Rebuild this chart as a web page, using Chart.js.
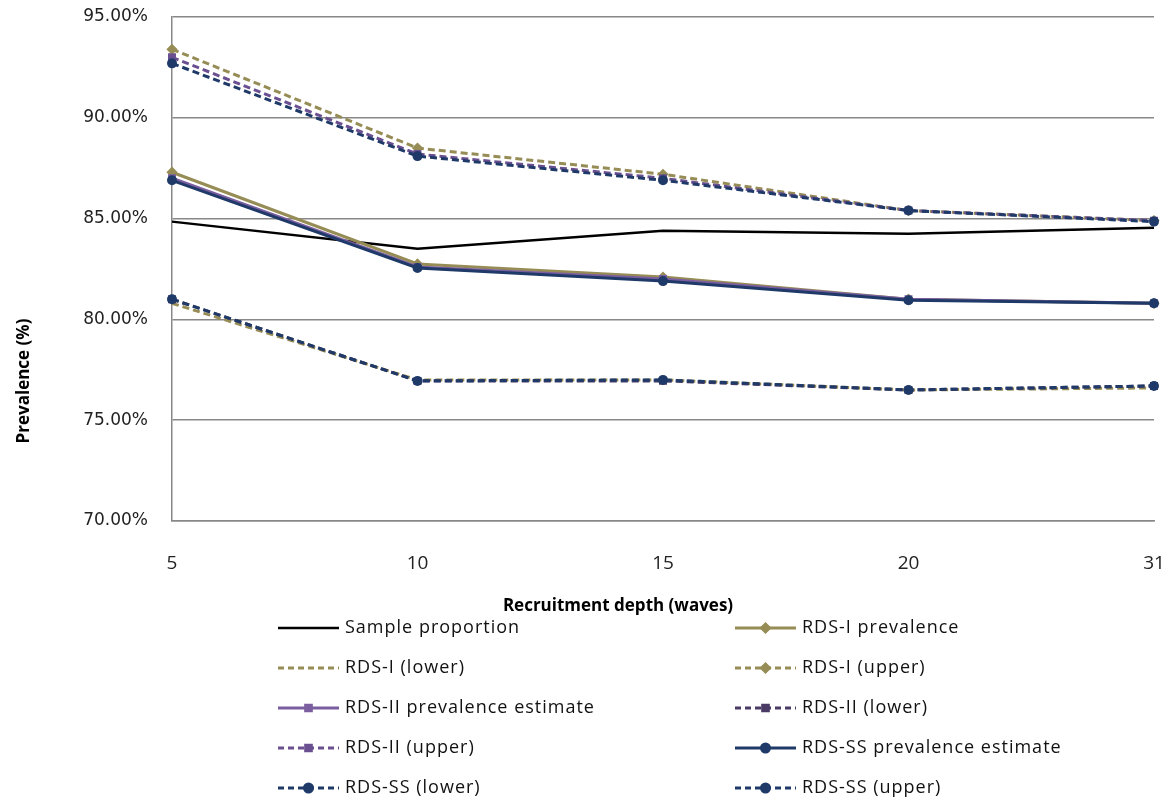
<!DOCTYPE html>
<html>
<head>
<meta charset="utf-8">
<script src="https://cdn.jsdelivr.net/npm/chart.js@4.4.1/dist/chart.umd.min.js"></script>
<style>
  html, body { margin: 0; padding: 0; background: #fff; }
  #wrap { width: 1176px; height: 801px; position: relative; }
</style>
</head>
<body>
<div id="wrap"><canvas id="chart" width="1176" height="801"></canvas></div>
<script>
// Prevalencia por profundidad de reclutamiento (olas)
const waves = ['5', '10', '15', '20', '31'];

const sampleProportion = [84.85, 83.5, 84.4, 84.25, 84.55];
const rds1Prev  = [87.3, 82.75, 82.1, 81.0, 80.8];
const rds1Lower = [80.8, 77.0, 77.0, 76.5, 76.6];
const rds1Upper = [93.4, 88.5, 87.2, 85.4, 84.9];
const rds2Prev  = [87.0, 82.6, 82.0, 81.0, 80.8];
const rds2Lower = [81.0, 76.95, 76.95, 76.5, 76.7];
const rds2Upper = [93.0, 88.2, 87.0, 85.4, 84.9];
const ssPrev    = [86.9, 82.55, 81.9, 80.95, 80.8];
const ssLower   = [81.0, 76.95, 77.0, 76.5, 76.7];
const ssUpper   = [92.7, 88.1, 86.9, 85.4, 84.85];

const yMin = 70, yMax = 95, yStep = 5;

const TAN = '#968C55';
const PURPLE = '#7B5EA0';
const PURPLE_DK = '#4A3A66';
const NAVY = '#1F3A68';

const FONT = '"DejaVu Sans", sans-serif';
const LEGEND_FONT = '"Open Sans", sans-serif';

function series(label, data, color, opts = {}) {
  return Object.assign({
    label,
    data,
    borderColor: color,
    backgroundColor: color,
    pointBackgroundColor: color,
    pointBorderColor: color,
    borderWidth: 3,
    pointRadius: 0,
    pointHoverRadius: 0,
    tension: 0,
    fill: false,
  }, opts);
}

const dashed = [7, 4];
const MARK = 3.5;

const datasets = [
  series('Sample proportion', sampleProportion, '#000000', { borderWidth: 2.5 }),
  series('RDS-I prevalence', rds1Prev, TAN, { pointStyle: 'rectRot', pointRadius: MARK }),
  series('RDS-I (lower)', rds1Lower, TAN, { borderDash: dashed }),
  series('RDS-I (upper)', rds1Upper, TAN, { borderDash: dashed, pointStyle: 'rectRot', pointRadius: MARK }),
  series('RDS-II prevalence estimate', rds2Prev, PURPLE, { pointStyle: 'rect', pointRadius: MARK }),
  series('RDS-II (lower)', rds2Lower, PURPLE_DK, { borderDash: dashed, pointStyle: 'rect', pointRadius: MARK }),
  series('RDS-II (upper)', rds2Upper, '#6A5090', { borderDash: dashed, pointStyle: 'rect', pointRadius: MARK }),
  series('RDS-SS prevalence estimate', ssPrev, NAVY, { pointStyle: 'circle', pointRadius: MARK }),
  series('RDS-SS (lower)', ssLower, NAVY, { borderDash: dashed, pointStyle: 'circle', pointRadius: MARK }),
  series('RDS-SS (upper)', ssUpper, NAVY, { borderDash: dashed, pointStyle: 'circle', pointRadius: MARK }),
];
// later series on top
datasets.forEach((d, i) => { d.order = datasets.length - i; });

// titulos de ejes + leyenda en dos columnas
const extras = {
  id: 'extras',
  afterDraw(chart) {
    const ctx = chart.ctx;
    ctx.save();
    ctx.fillStyle = '#000';
    ctx.font = 'bold 17px ' + LEGEND_FONT;
    ctx.textAlign = 'center';
    ctx.textBaseline = 'middle';
    ctx.fillText('Recruitment depth (waves)', 618, 606);

    ctx.save();
    ctx.translate(24, 381);
    ctx.rotate(-Math.PI / 2);
    ctx.fillText('Prevalence (%)', 0, 0);
    ctx.restore();

    ctx.font = '18px ' + LEGEND_FONT;
    ctx.letterSpacing = '1px';
    ctx.textAlign = 'left';
    chart.data.datasets.forEach((ds, i) => {
      const col = i % 2;
      const row = Math.floor(i / 2);
      const x0 = col ? 735 : 278;
      const x1 = x0 + 61;
      const y = 628 + row * 40;
      ctx.strokeStyle = ds.borderColor;
      ctx.lineWidth = ds.borderWidth;
      ctx.setLineDash(ds.borderDash ? [6, 4] : []);
      ctx.beginPath();
      ctx.moveTo(x0, y);
      ctx.lineTo(x1, y);
      ctx.stroke();
      ctx.setLineDash([]);
      if (ds.pointRadius > 0) {
        ctx.fillStyle = ds.pointBackgroundColor;
        ctx.strokeStyle = ds.pointBorderColor;
        Chart.helpers.drawPoint(ctx, {
          pointStyle: ds.pointStyle,
          radius: 4,
          rotation: 0,
          borderWidth: 1,
        }, (x0 + x1) / 2, y);
      }
      ctx.fillStyle = '#111';
      ctx.fillText(ds.label, x1 + 6, y);
    });
    ctx.restore();
  }
};

new Chart(document.getElementById('chart'), {
  type: 'line',
  data: { labels: waves, datasets },
  plugins: [extras],
  options: {
    responsive: false,
    animation: false,
    events: [],
    layout: { padding: { left: 0, right: 22, top: 17, bottom: 220 } },
    plugins: {
      legend: { display: false },
      tooltip: { enabled: false },
    },
    scales: {
      x: {
        offset: false,
        grid: { display: false, drawTicks: false },
        border: { display: true, color: '#888', width: 1.5 },
        ticks: {
          padding: 31,
          color: '#222',
          font: { family: '"Open Sans", sans-serif', size: 19 },
          maxRotation: 0,
        },
        afterFit(scale) {
          scale.height = 60;
          scale.paddingLeft = 0;
          scale.paddingRight = 0;
        },
      },
      y: {
        min: yMin,
        max: yMax,
        grid: { color: '#888', lineWidth: 1.5, drawTicks: false },
        border: { display: true, color: '#888', width: 1.5 },
        ticks: {
          stepSize: yStep,
          padding: 24,
          color: '#222',
          font: { family: FONT, size: 17 },
          callback: v => v.toFixed(2) + '%',
        },
        afterFit(scale) {
          scale.width = 172;
          scale.paddingTop = 0;
          scale.paddingBottom = 0;
        },
      },
    },
  },
});
</script>
</body>
</html>
